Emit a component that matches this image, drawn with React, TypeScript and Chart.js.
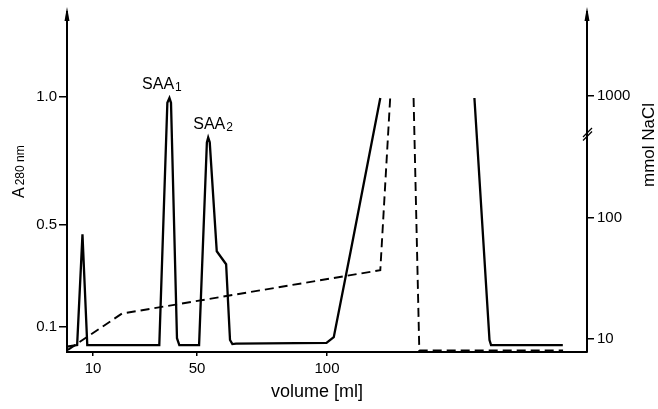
import React, { useEffect, useRef } from "react";
import { Chart, registerables } from "chart.js";

Chart.register(...registerables);

// Absorbance A280 (solid line); null = trace leaves the plotted range
const solidX: number[] = [0, 3.9, 5.95, 7.8, 35.5, 38.6, 39.4, 40.0, 42.3, 43.2, 50.8, 53.8, 54.3, 54.9, 57.6, 61.2, 62.7, 63.6, 65.0, 99.8, 102.6, 109.1, 120.5, 138, 156.7, 162.5, 163.1, 190.7];
const solidY: (number | null)[] = [0.021, 0.027, 0.461, 0.027, 0.027, 0.977, 0.996, 0.977, 0.054, 0.027, 0.027, 0.822, 0.841, 0.822, 0.395, 0.344, 0.047, 0.031, 0.033, 0.036, 0.058, 0.395, 0.996, null, 0.996, 0.047, 0.027, 0.027];

// NaCl gradient (dashed line), mmol
const saltX: number[] = [0.35, 21.1, 120.5, 124.3, 129, 133.3, 135.5, 190.8];
const saltY: (number | null)[] = [8.15, 16.2, 36.9, 964, null, 964, 8.06, 8.06];

const xTicks: number[] = [10, 50, 100];
const leftTicks: number[] = [0.1, 0.5, 1.0];
const rightTicks: number[] = [10, 100, 1000];

const peakNames: string[] = ["SAA", "SAA"];
const peakSubs: string[] = ["1", "2"];
const peakLabelX: number[] = [36.5, 56.2];
const peakLabelY: number[] = [1.03, 0.875];

const FONT = "'Liberation Sans', Arial, sans-serif";

const overlay = {
  id: "overlay",
  afterDraw(chart: any) {
    const { ctx, chartArea, scales } = chart;
    const l = chartArea.left;
    const r = chartArea.right;
    const t = chartArea.top;
    ctx.save();
    ctx.fillStyle = "#000";
    ctx.strokeStyle = "#000";
    // arrows on both vertical axes
    for (const ax of [l, r]) {
      ctx.beginPath();
      ctx.moveTo(ax, t - 5);
      ctx.lineTo(ax - 2.5, t + 9);
      ctx.lineTo(ax + 2.5, t + 9);
      ctx.closePath();
      ctx.fill();
    }
    // axis break marks on the right axis
    ctx.lineWidth = 1.3;
    for (const dy of [0, 3.5]) {
      ctx.beginPath();
      ctx.moveTo(r - 4, 139 + dy - 2);
      ctx.lineTo(r + 5, 130 + dy - 2);
      ctx.stroke();
    }
    // peak labels
    for (let i = 0; i < peakNames.length; i++) {
      const px = scales.x.getPixelForValue(peakLabelX[i]);
      const base = scales.y.getPixelForValue(peakLabelY[i]);
      ctx.font = `16px ${FONT}`;
      const w1 = ctx.measureText(peakNames[i]).width;
      ctx.font = `12px ${FONT}`;
      const w2 = ctx.measureText(peakSubs[i]).width;
      const x0 = px - (w1 + w2 + 1) / 2;
      ctx.textAlign = "left";
      ctx.textBaseline = "alphabetic";
      ctx.font = `16px ${FONT}`;
      ctx.fillText(peakNames[i], x0, base);
      ctx.font = `12px ${FONT}`;
      ctx.fillText(peakSubs[i], x0 + w1 + 1, base + 2);
    }
    // left axis title A280 nm (rotated)
    ctx.save();
    ctx.translate(23.5, 198);
    ctx.rotate(-Math.PI / 2);
    ctx.textAlign = "left";
    ctx.textBaseline = "alphabetic";
    ctx.font = `16px ${FONT}`;
    ctx.fillText("A", 0, 0);
    const wa = ctx.measureText("A").width;
    ctx.font = `12px ${FONT}`;
    ctx.fillText("280 nm", wa + 2, 0);
    ctx.restore();
    // right axis title
    ctx.save();
    ctx.translate(654, 145);
    ctx.rotate(-Math.PI / 2);
    ctx.textAlign = "center";
    ctx.textBaseline = "alphabetic";
    ctx.font = `17px ${FONT}`;
    ctx.fillText("mmol NaCl", 0, 0);
    ctx.restore();
    // x axis title
    ctx.textAlign = "center";
    ctx.textBaseline = "alphabetic";
    ctx.font = `18px ${FONT}`;
    ctx.fillText("volume [ml]", 317, 397);
    ctx.restore();
  },
};

export default function App() {
  const ref = useRef<HTMLCanvasElement | null>(null);
  useEffect(() => {
    document.body.style.margin = "0";
    const canvas = ref.current;
    if (!canvas) return;
    const tickFont = { family: FONT, size: 15 };
    const chart = new Chart(canvas, {
      type: "line",
      data: {
        datasets: [
          {
            label: "A280",
            data: solidX.map((x, i) => ({ x, y: solidY[i] })) as any,
            borderColor: "#000",
            borderWidth: 2.3,
            pointRadius: 0,
            tension: 0,
            spanGaps: false,
            yAxisID: "y",
          },
          {
            label: "NaCl",
            data: saltX.map((x, i) => ({ x, y: saltY[i] })) as any,
            borderColor: "#000",
            borderWidth: 1.9,
            borderDash: [9, 5],
            pointRadius: 0,
            tension: 0,
            spanGaps: false,
            yAxisID: "y2",
          },
        ],
      },
      options: {
        responsive: false,
        animation: false,
        events: [],
        layout: { padding: { top: 8, left: 0, right: 0, bottom: 0 } },
        plugins: { legend: { display: false }, tooltip: { enabled: false } },
        scales: {
          x: {
            type: "linear",
            min: 0,
            max: 200,
            afterBuildTicks: (s: any) => {
              s.ticks = xTicks.map((v) => ({ value: v }));
            },
            afterFit: (s: any) => {
              s.height = 57;
            },
            ticks: { color: "#000", font: tickFont, padding: 4, maxRotation: 0, callback: (v: any) => String(v) },
            grid: { drawOnChartArea: false, drawTicks: true, tickLength: 4, color: "#000", lineWidth: 1.5 },
            border: { display: true, color: "#000", width: 2 },
          },
          y: {
            type: "linear",
            position: "left",
            min: 0,
            max: 1.333,
            afterBuildTicks: (s: any) => {
              s.ticks = leftTicks.map((v) => ({ value: v }));
            },
            afterFit: (s: any) => {
              s.width = 67;
            },
            ticks: { color: "#000", font: tickFont, padding: 2, callback: (v: any) => Number(v).toFixed(1) },
            grid: { drawOnChartArea: false, drawTicks: true, tickLength: 8, color: "#000", lineWidth: 1.5 },
            border: { display: true, color: "#000", width: 2 },
          },
          y2: {
            type: "logarithmic",
            position: "right",
            min: 7.83,
            max: 4910,
            afterBuildTicks: (s: any) => {
              s.ticks = rightTicks.map((v) => ({ value: v }));
            },
            afterFit: (s: any) => {
              s.width = 71;
            },
            ticks: { color: "#000", font: tickFont, padding: 3, callback: (v: any) => String(v) },
            grid: { drawOnChartArea: false, drawTicks: true, tickLength: 7, color: "#000", lineWidth: 1.5 },
            border: { display: true, color: "#000", width: 2 },
          },
        },
      },
      plugins: [overlay],
    });
    return () => chart.destroy();
  }, []);
  return (
    <div style={{ width: 658, height: 409, background: "#fff" }}>
      <canvas ref={ref} width={658} height={409} style={{ display: "block" }} />
    </div>
  );
}
